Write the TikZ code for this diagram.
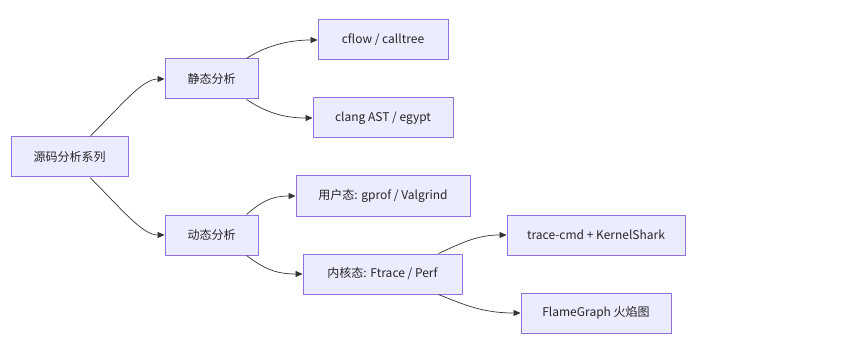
\documentclass[tikz,border=0pt]{standalone}
\usepackage{fontspec}
\setmainfont{Noto Sans CJK SC}
\usetikzlibrary{arrows.meta}
\definecolor{nodefill}{HTML}{ECECFF}
\definecolor{nodeborder}{HTML}{9370DB}
\definecolor{edgecol}{HTML}{333333}
\begin{document}
\begin{tikzpicture}[x=1pt,y=-1pt,
  box/.style={draw=nodeborder,fill=nodefill,line width=1pt,minimum height=40pt,inner sep=0pt,font=\fontsize{12}{14}\selectfont,text=black!85},
  edge/.style={draw=edgecol,line width=0.7pt,-{Triangle[length=7pt,width=6pt]}}]
\useasboundingbox (0,0) rectangle (849,342);
\node[box,minimum width=117pt] (A) at (69.5,157) {源码分析系列};
\node[box,minimum width=93pt] (B) at (211.5,79) {静态分析};
\node[box,minimum width=93pt] (C) at (211.5,235) {动态分析};
\node[box,minimum width=130pt] (D) at (383,40) {cflow / calltree};
\node[box,minimum width=140pt] (E) at (383,118) {clang AST / egypt};
\node[box,minimum width=174pt] (F) at (383,196) {用户态: gprof / Valgrind};
\node[box,minimum width=159pt] (G) at (382.5,274) {内核态: Ftrace / Perf};
\node[box,minimum width=178pt] (H) at (596,235) {trace-cmd + KernelShark};
\node[box,minimum width=150pt] (I) at (596,313) {FlameGraph 火焰图};
\draw[edge] ([xshift=20.5pt]A.north) .. controls +(32,-32) and +(-22,0) .. (B.west);
\draw[edge] ([xshift=20.5pt]A.south) .. controls +(32,32) and +(-22,0) .. (C.west);
\draw[edge] ([xshift=-12pt]B.north east) .. controls +(18,-12) and +(-30,0) .. (D.west);
\draw[edge] ([xshift=-12pt]B.south east) .. controls +(18,12) and +(-30,0) .. (E.west);
\draw[edge] ([xshift=-12pt]C.north east) .. controls +(14,-12) and +(-25,0) .. (F.west);
\draw[edge] ([xshift=-12pt]C.south east) .. controls +(16,12) and +(-28,0) .. (G.west);
\draw[edge] ([xshift=-24pt]G.north east) .. controls +(22,-10) and +(-30,0) .. (H.west);
\draw[edge] ([xshift=-24pt]G.south east) .. controls +(25,10) and +(-38,0) .. (I.west);
\end{tikzpicture}
\end{document}
